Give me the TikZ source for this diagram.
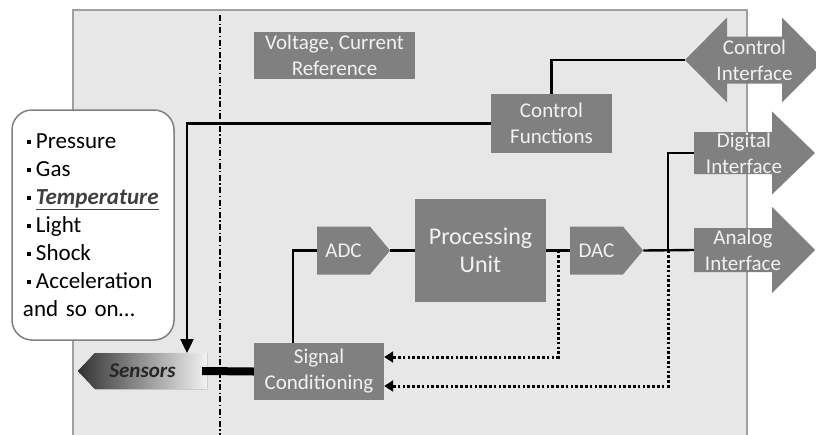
\documentclass[tikz,border=0pt]{standalone}
\usepackage{fontspec}
\setmainfont{Carlito}
\usetikzlibrary{shapes.symbols,arrows.meta}

\definecolor{boxgray}{HTML}{808080}
\definecolor{framegray}{HTML}{E7E7E7}
\definecolor{edgegray}{HTML}{A0A0A0}
\definecolor{txtgray}{HTML}{F2F2F2}

\tikzset{
  blk/.style={fill=boxgray, text=txtgray, align=center, inner sep=0pt,
              font=\fontsize{21}{26}\selectfont},
  conv/.style={blk, signal, signal to=east, signal pointer angle=100,
               minimum width=73pt, minimum height=48pt},
  portlbl/.style={text=txtgray, align=center, inner sep=0pt,
                  font=\fontsize{21}{26}\selectfont},
  listbox/.style={draw=edgegray!80!black, fill=white, line width=1.5pt,
                  rounded corners=20pt, minimum width=162pt, minimum height=230pt,
                  text width=140pt, align=left, inner sep=0pt,
                  font=\fontsize{23}{28}\selectfont},
  sensbox/.style={minimum width=129pt, minimum height=36pt, inner sep=0pt, text=black!85,
                   font=\fontsize{21}{26}\selectfont\bfseries\itshape,
                   path picture={\fill[left color=black!80, right color=black!5]
                     (path picture bounding box.west)
                     -- ([xshift=17pt]path picture bounding box.north west)
                     -- (path picture bounding box.north east)
                     -- (path picture bounding box.south east)
                     -- ([xshift=17pt]path picture bounding box.south west) -- cycle;}},
  wire/.style={line width=2.4pt},
  fb/.style={line width=3pt, dash pattern=on 2.6pt off 2.2pt,
             -{Triangle[width=11pt,length=9pt]}},
}
\newcommand{\sqbul}{\hspace*{4pt}\rule[0.2em]{4pt}{4pt}\hspace{5pt}}

\begin{document}
\begin{tikzpicture}[x=1pt,y=-1pt]
  \clip (0,0) rectangle (816,434);

  % board
  \fill[framegray] (73,10) rectangle (747,440);
  \draw[edgegray, line width=1.5pt] (73,440) -- (73,10) -- (747,10) -- (747,440);
  \draw[line width=1.3pt, dash pattern=on 6pt off 2.5pt on 1.3pt off 2.5pt] (220,15) -- (220,440);

  % interfaces
  \fill[boxgray] (685,60) -- (727,17.5) -- (727,36.5) -- (782,36.5) -- (782,17.5) -- (824,60)
    -- (782,102.5) -- (782,83.5) -- (727,83.5) -- (727,102.5) -- cycle;
  \fill[boxgray] (694,132) -- (772,132) -- (772,111.5) -- (815,153) -- (772,194.5)
    -- (772,174) -- (694,174) -- cycle;
  \fill[boxgray] (694,228) -- (772,228) -- (772,207) -- (815,250) -- (772,293)
    -- (772,272) -- (694,272) -- cycle;
  \node[portlbl, minimum width=139pt] (ci) at (754.5,60) {Control\\Interface};
  \node[portlbl, minimum width=100pt] (di) at (744,153) {Digital\\Interface};
  \node[portlbl, minimum width=98pt] (ai) at (743,250) {Analog\\Interface};

  % blocks
  \node[blk, minimum width=161pt, minimum height=47pt] (ref) at (334.5,55.5) {Voltage, Current\\Reference};
  \node[blk, minimum width=121pt, minimum height=59pt] (cf) at (551.5,123.5) {Control\\Functions};
  \node[blk, minimum width=131pt, minimum height=103pt, font=\fontsize{24}{28}\selectfont] (pu) at (480.5,250.5) {Processing\\Unit};
  \node[blk, minimum width=130pt, minimum height=57pt] (sc) at (319,371.5) {Signal\\Conditioning};
  \node[conv] (adc) at (343.5,250.5) {ADC};
  \node[conv] (dac) at (596.5,250.5) {DAC};

  % sensors
  \node[listbox] (lst) at (93,225) {\sqbul Pressure\\ \sqbul Gas\\
    \sqbul\textcolor{black!75}{\textbf{\textit{\underline{Temperature}}}}\\
    \sqbul Light\\ \sqbul Shock\\ \sqbul Acceleration\\ and so on\dots};
  \node[sensbox] (sens) at (142.5,371) {Sensors};
  \coordinate (sensin) at (187,353);

  % connections
  \draw[wire] (cf.north) |- (ci.west);
  \draw[wire, -{Triangle[width=13pt,length=14pt]}] (cf.west) -| (sensin);
  \draw[line width=8pt] ([xshift=-5pt]sens.east) -- (sc.west);
  \draw[wire] (adc.west) -| ([xshift=-26pt]sc.north);
  \draw[wire] (adc.east) -- (pu.west);
  \draw[wire] (pu.east) -- (dac.west);
  \draw[wire] (dac.east) -- (ai.west);
  \coordinate (tapp) at (558,250.5);
  \coordinate (tapd) at (668,250.5);
  \draw[wire] (tapd) |- (di.west);
  \draw[fb] (tapp) |- ([yshift=14.5pt]sc.east);
  \draw[fb] (tapd) |- ([yshift=-14.5pt]sc.east);
\end{tikzpicture}
\end{document}
